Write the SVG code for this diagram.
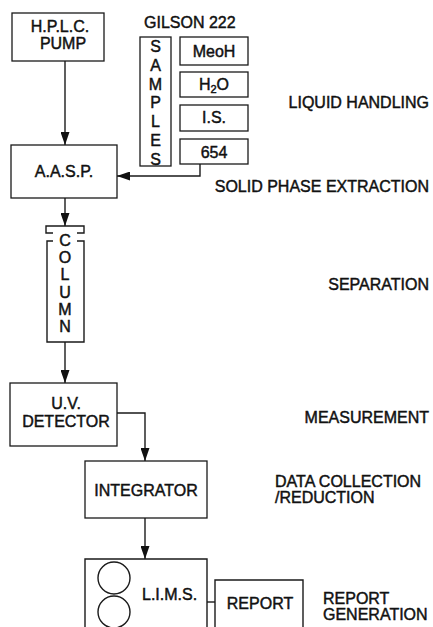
<svg xmlns="http://www.w3.org/2000/svg" width="433" height="627" viewBox="0 0 433 627">
  <defs>
    <marker id="arrow" viewBox="0 0 13 9" refX="13" refY="4.5" markerWidth="13" markerHeight="9" markerUnits="userSpaceOnUse" orient="auto">
      <path d="M0,0 L13,4.5 L0,9 Z" fill="#111"/>
    </marker>
    <style>
      .box { fill: #fff; stroke: #1a1a1a; stroke-width: 1.3; }
      .line { fill: none; stroke: #1a1a1a; stroke-width: 1.4; }
      .t { font-family: "Liberation Sans", Arial, sans-serif; font-size: 16px; fill: #111; stroke: #111; stroke-width: 0.45; }
      .mid { text-anchor: middle; }
      .end { text-anchor: end; }
    </style>
  </defs>
  <rect width="433" height="627" fill="#fff"/>

  <!-- connectors -->
  <g id="connectors">
    <path class="line" d="M65,61 V145" marker-end="url(#arrow)"/>
    <path class="line" d="M200,164 V176 H117" marker-end="url(#arrow)"/>
    <path class="line" d="M65,198 V226" marker-end="url(#arrow)"/>
    <path class="line" d="M65,342 V383" marker-end="url(#arrow)"/>
    <path class="line" d="M117,413 H145 V461" marker-end="url(#arrow)"/>
    <path class="line" d="M145,518 V559" marker-end="url(#arrow)"/>
    <path class="line" d="M207,602 H215"/>
  </g>

  <!-- pump -->
  <g id="pump">
    <rect class="box" x="12" y="13" width="92" height="48"/>
    <text class="t mid" x="60" y="32">H.P.L.C.</text>
    <text class="t mid" x="63" y="49">PUMP</text>
  </g>

  <!-- autosampler -->
  <g id="gilson">
    <text class="t" x="144" y="28">GILSON 222</text>
  </g>
  <g id="samples">
    <rect class="box" x="140" y="37" width="31" height="129"/>
    <text class="t mid" x="155.5" y="52">S</text>
    <text class="t mid" x="155.5" y="71">A</text>
    <text class="t mid" x="155.5" y="90">M</text>
    <text class="t mid" x="155.5" y="108">P</text>
    <text class="t mid" x="155.5" y="127">L</text>
    <text class="t mid" x="155.5" y="146">E</text>
    <text class="t mid" x="155.5" y="165">S</text>
  </g>
  <g id="meoh">
    <rect class="box" x="180" y="37" width="68" height="28"/>
    <text class="t mid" x="214" y="57">MeoH</text>
  </g>
  <g id="water">
    <rect class="box" x="180" y="72" width="68" height="25"/>
    <text class="t mid" x="214" y="90">H<tspan font-size="11" dy="3">2</tspan><tspan dy="-3">O</tspan></text>
  </g>
  <g id="is">
    <rect class="box" x="180" y="105" width="68" height="26"/>
    <text class="t mid" x="214" y="123">I.S.</text>
  </g>
  <g id="s654">
    <rect class="box" x="180" y="139" width="68" height="25"/>
    <text class="t mid" x="214" y="158">654</text>
  </g>

  <!-- solid phase extraction -->
  <g id="aasp">
    <rect class="box" x="11" y="145" width="106" height="53"/>
    <text class="t mid" x="64" y="177">A.A.S.P.</text>
  </g>

  <!-- column with end fitting -->
  <g id="column">
    <path class="line" d="M53,233 H46 V226 H84 V233 H77"/>
    <path class="line" d="M53,241 H47 V342 H84 V241 H77"/>
    <text class="t mid" x="65" y="246">C</text>
    <text class="t mid" x="65" y="263">O</text>
    <text class="t mid" x="65" y="280">L</text>
    <text class="t mid" x="65" y="298">U</text>
    <text class="t mid" x="65" y="315">M</text>
    <text class="t mid" x="65" y="332">N</text>
  </g>

  <g id="detector">
    <rect class="box" x="10" y="383" width="107" height="63"/>
    <text class="t mid" x="66" y="409">U.V.</text>
    <text class="t mid" x="66" y="427">DETECTOR</text>
  </g>

  <g id="integrator">
    <rect class="box" x="85" y="461" width="122" height="57"/>
    <text class="t mid" x="146" y="496">INTEGRATOR</text>
  </g>

  <g id="lims">
    <path class="line" d="M85,640 V559 H207 V640"/>
    <circle class="line" cx="114" cy="578" r="16"/>
    <circle class="line" cx="114" cy="612" r="16"/>
    <text class="t" x="142" y="600">L.I.M.S.</text>
  </g>

  <g id="report">
    <path class="line" d="M215,640 V580 H303 V640"/>
    <text class="t mid" x="260" y="609">REPORT</text>
  </g>

  <!-- stage labels -->
  <g id="stages">
    <text class="t end" x="429" y="108">LIQUID HANDLING</text>
    <text class="t end" x="429" y="192">SOLID PHASE EXTRACTION</text>
    <text class="t end" x="429" y="290">SEPARATION</text>
    <text class="t end" x="429" y="423">MEASUREMENT</text>
    <text class="t" x="275" y="487">DATA COLLECTION</text>
    <text class="t" x="275" y="503">/REDUCTION</text>
    <text class="t" x="323" y="604">REPORT</text>
    <text class="t" x="323" y="620">GENERATION</text>
  </g>
</svg>
